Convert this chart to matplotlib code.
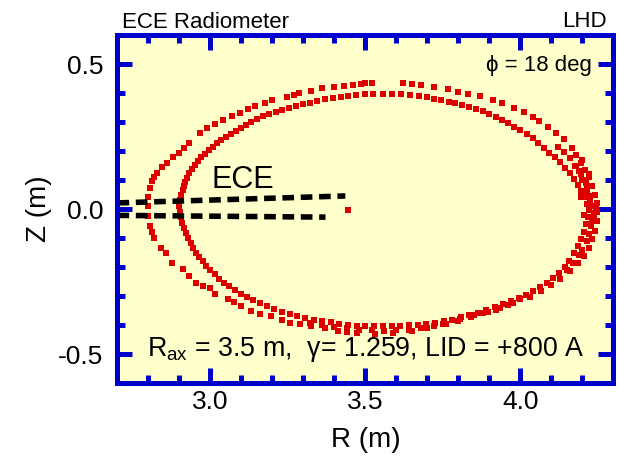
import matplotlib
matplotlib.use('Agg')
import matplotlib.pyplot as plt
from matplotlib.ticker import MultipleLocator

# Poincare plot points (R, Z in m)
# inner (last closed) surface, traced counter-clockwise from the inboard side
inner_r = [2.899, 2.902, 2.905, 2.910, 2.914, 2.919, 2.925, 2.932, 2.940, 2.950,
           2.960, 2.971, 2.983, 2.995, 3.008, 3.021, 3.035, 3.050, 3.066, 3.082,
           3.098, 3.114, 3.131, 3.150, 3.170, 3.190, 3.210, 3.232, 3.254, 3.276,
           3.298, 3.320, 3.345, 3.370, 3.395, 3.420, 3.445, 3.470, 3.497, 3.525,
           3.555, 3.585, 3.615, 3.645, 3.672, 3.700, 3.722, 3.745, 3.768, 3.790,
           3.812, 3.835, 3.858, 3.880, 3.900, 3.920, 3.940, 3.960, 3.980, 4.000,
           4.020, 4.040, 4.058, 4.075, 4.092, 4.110, 4.128, 4.145, 4.160, 4.173,
           4.185, 4.196, 4.206, 4.214, 4.220, 4.218, 4.212, 4.204, 4.195, 4.184,
           4.172, 4.158, 4.143, 4.125, 4.105, 4.085, 4.063, 4.040, 4.018, 3.995,
           3.970, 3.945, 3.918, 3.890, 3.862, 3.835, 3.808, 3.780, 3.752, 3.724,
           3.696, 3.668, 3.640, 3.612, 3.584, 3.556, 3.528, 3.500, 3.472, 3.444,
           3.416, 3.388, 3.360, 3.333, 3.306, 3.280, 3.255, 3.230, 3.206, 3.183,
           3.160, 3.138, 3.117, 3.097, 3.078, 3.060, 3.043, 3.028, 3.014, 3.000,
           2.987, 2.975, 2.964, 2.954, 2.945, 2.937, 2.929, 2.922, 2.915, 2.909,
           2.904, 2.901]
inner_z = [0.010, 0.030, 0.048, 0.064, 0.080, 0.094, 0.108, 0.124, 0.138, 0.152,
           0.166, 0.178, 0.191, 0.203, 0.215, 0.226, 0.237, 0.247, 0.258, 0.268,
           0.279, 0.290, 0.300, 0.310, 0.319, 0.328, 0.335, 0.343, 0.350, 0.356,
           0.362, 0.367, 0.373, 0.378, 0.383, 0.387, 0.391, 0.394, 0.396, 0.397,
           0.398, 0.397, 0.395, 0.392, 0.389, 0.385, 0.380, 0.375, 0.369, 0.364,
           0.358, 0.352, 0.345, 0.337, 0.328, 0.318, 0.307, 0.296, 0.284, 0.272,
           0.260, 0.245, 0.228, 0.210, 0.194, 0.178, 0.162, 0.143, 0.124, 0.104,
           0.084, 0.062, 0.040, 0.018, -0.005, -0.028, -0.052, -0.078, -0.104, -0.128,
           -0.153, -0.178, -0.200, -0.220, -0.238, -0.254, -0.269, -0.283, -0.295, -0.307,
           -0.318, -0.329, -0.339, -0.349, -0.358, -0.366, -0.374, -0.381, -0.387, -0.392,
           -0.396, -0.399, -0.401, -0.403, -0.404, -0.405, -0.405, -0.404, -0.402, -0.399,
           -0.395, -0.391, -0.386, -0.381, -0.376, -0.369, -0.362, -0.354, -0.345, -0.335,
           -0.325, -0.314, -0.303, -0.292, -0.280, -0.267, -0.254, -0.240, -0.225, -0.210,
           -0.196, -0.181, -0.166, -0.150, -0.134, -0.118, -0.101, -0.083, -0.065, -0.047,
           -0.028, -0.010]

# outer (island / stochastic) points
outer_r = [2.797, 2.800, 2.806, 2.812, 2.818, 2.829, 2.845, 2.861, 2.880, 2.900,
           2.915, 2.932, 2.965, 2.990, 3.013, 3.040, 3.071, 3.094, 3.120, 3.142,
           3.175, 3.200, 3.248, 3.270, 3.287, 3.323, 3.361, 3.400, 3.432, 3.460,
           3.484, 3.500, 3.520, 3.620, 3.650, 3.680, 3.720, 3.765, 3.800, 3.830,
           3.870, 3.910, 3.940, 3.980, 4.010, 4.040, 4.060, 4.090, 4.115, 4.140,
           4.165, 4.180, 4.195, 4.208, 4.220, 4.232, 4.240, 4.246, 4.248, 4.190,
           4.210, 4.225, 4.232, 4.200, 4.175, 4.215, 4.238, 4.246, 4.240, 4.232,
           4.220, 4.205, 4.184, 4.160, 4.129, 4.100, 4.065, 4.030, 3.977, 3.935,
           3.894, 3.850, 3.806, 3.750, 3.700, 3.650, 3.590, 3.530, 3.474, 3.440,
           3.410, 3.370, 3.323, 3.290, 3.258, 3.230, 3.194, 3.161, 3.130, 3.097,
           3.075, 3.055, 3.016, 2.997, 2.975, 2.952, 2.930, 2.910, 2.877, 2.855,
           2.840, 2.819, 2.812, 2.806, 2.800]
outer_z = [0.010, 0.040, 0.072, 0.095, 0.112, 0.124, 0.145, 0.159, 0.178, 0.193,
           0.210, 0.228, 0.262, 0.280, 0.293, 0.307, 0.321, 0.331, 0.345, 0.355,
           0.366, 0.376, 0.386, 0.393, 0.400, 0.407, 0.417, 0.421, 0.424, 0.428,
           0.431, 0.435, 0.436, 0.433, 0.432, 0.428, 0.422, 0.414, 0.405, 0.397,
           0.388, 0.376, 0.366, 0.350, 0.336, 0.318, 0.305, 0.283, 0.262, 0.240,
           0.210, 0.185, 0.160, 0.135, 0.110, 0.080, 0.050, 0.020, -0.010, 0.130,
           0.090, 0.030, -0.040, 0.100, 0.150, 0.060, -0.020, -0.040, -0.075, -0.103,
           -0.135, -0.163, -0.186, -0.215, -0.241, -0.262, -0.283, -0.302, -0.324, -0.340,
           -0.355, -0.367, -0.379, -0.396, -0.410, -0.420, -0.428, -0.430, -0.428, -0.425,
           -0.421, -0.412, -0.403, -0.398, -0.393, -0.381, -0.369, -0.362, -0.350, -0.334,
           -0.322, -0.310, -0.293, -0.272, -0.265, -0.255, -0.230, -0.207, -0.186, -0.152,
           -0.135, -0.100, -0.080, -0.059, -0.024]

# scattered points filling the thick band on the outboard side and the bottom
band_r = [4.180, 4.195, 4.205, 4.215, 4.225, 4.232, 4.236, 4.228, 4.222, 4.213,
          4.200, 4.188, 4.170, 4.150, 4.160, 4.140, 4.120, 4.195, 4.205, 4.242,
          4.220, 4.200, 4.000, 3.960, 3.920, 3.880, 3.840, 3.800, 3.760, 3.720,
          3.680, 3.640, 3.600, 3.560, 3.520, 3.480, 3.440, 3.400, 3.360, 3.320]
band_z = [0.150, 0.120, 0.100, 0.070, 0.045, 0.010, -0.015, -0.060, -0.085, -0.110,
          -0.140, -0.160, -0.185, -0.210, 0.175, 0.195, 0.215, 0.040, -0.020, 0.000,
          0.120, 0.170, -0.310, -0.330, -0.348, -0.360, -0.374, -0.386, -0.398, -0.405,
          -0.412, -0.416, -0.418, -0.420, -0.418, -0.416, -0.412, -0.407, -0.400, -0.392]

axis_r = [3.445]
axis_z = [-0.003]

# ECE lines of sight
ece_upper_r = [2.70, 3.435]
ece_upper_z = [0.021, 0.045]
ece_lower_r = [2.70, 3.371]
ece_lower_z = [-0.022, -0.028]

xticks = [3.0, 3.5, 4.0]
yticks = [-0.5, 0.0, 0.5]

blue = '#0000cc'
red = '#dd0000'

plt.rcParams['font.family'] = ['Liberation Sans', 'DejaVu Sans']
plt.rcParams['mathtext.fontset'] = 'custom'
plt.rcParams['mathtext.rm'] = 'Liberation Sans'
plt.rcParams['mathtext.it'] = 'Liberation Sans:italic'

fig = plt.figure(figsize=(6.19, 4.57), dpi=100)
ax = fig.add_axes([0.1898, 0.1619, 0.8013, 0.7615])
ax.set_facecolor('#ffffcc')

for rr, zz in [(outer_r, outer_z), (inner_r, inner_z), (band_r, band_z), (axis_r, axis_z)]:
    ax.scatter(rr, zz, s=14, marker='s', color=red, linewidths=0, zorder=2)

ax.plot(ece_upper_r, ece_upper_z, color='k', lw=4, dashes=(2.1, 1.2),
        dash_capstyle='butt', zorder=3)
ax.plot(ece_lower_r, ece_lower_z, color='k', lw=4, dashes=(2.1, 1.2),
        dash_capstyle='butt', zorder=3)

ax.set_xlim(2.7, 4.3)
ax.set_ylim(-0.6, 0.6)
ax.set_xticks(xticks)
ax.set_xticklabels(['%.1f' % v for v in xticks])
ax.set_yticks(yticks)
ax.set_yticklabels(['%.1f' % v for v in yticks])
ax.xaxis.set_minor_locator(MultipleLocator(0.1))
ax.yaxis.set_minor_locator(MultipleLocator(0.1))

for sp in ax.spines.values():
    sp.set_color(blue)
    sp.set_linewidth(3.6)
    sp.set_zorder(5)
ax.tick_params(which='both', direction='in', top=True, right=True,
               color=blue, width=3.6, labelsize=19)
ax.tick_params(which='major', length=11)
ax.tick_params(which='minor', length=6)
ax.tick_params(axis='x', pad=5)
ax.tick_params(axis='y', pad=10)

ax.set_xlabel('R (m)', fontsize=20)
ax.set_ylabel('Z (m)', fontsize=20)
ax.xaxis.set_label_coords(0.5, -0.126)
ax.yaxis.set_label_coords(-0.133, 0.5)

ax.text(3.105, 0.073, 'ECE', fontsize=22, ha='center', va='baseline', zorder=4)
ax.text(4.231, 0.476, '\u03d5 = 18 deg', fontsize=16, ha='right', va='baseline', zorder=4)
ax.text(3.50, -0.507, '$\\mathrm{R_{ax}}$ = 3.5 m,  \u03b3= 1.259, LID = +800 A',
        fontsize=19.3, ha='center', va='baseline', zorder=4)

fig.text(122 / 619, 1 - 28 / 457, 'ECE Radiometer', fontsize=16, ha='left', va='baseline')
fig.text(607 / 619, 1 - 27 / 457, 'LHD', fontsize=16, ha='right', va='baseline')

fig.savefig('out.png', dpi=100)
